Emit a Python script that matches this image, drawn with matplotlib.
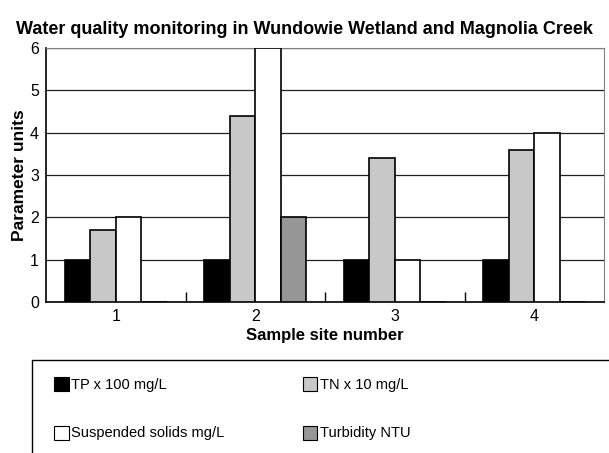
import matplotlib
matplotlib.use("Agg")
import matplotlib.pyplot as plt
import matplotlib.patches as mpatches
import numpy as np

plt.rcParams['font.family'] = ['Liberation Sans', 'DejaVu Sans']

# datos
sites = ["1", "2", "3", "4"]
tp = [1, 1, 1, 1]
tn = [1.7, 4.4, 3.4, 3.6]
ss = [2, 6, 1, 4]
turb = [0, 2, 0, 0]
labels = ["TP x 100 mg/L", "TN x 10 mg/L", "Suspended solids mg/L", "Turbidity NTU"]
colors = ["#000000", "#c8c8c8", "#ffffff", "#969696"]

fig = plt.figure(figsize=(6.09, 4.53), dpi=100)
ax = fig.add_axes([46/609, 1 - 302/453, 558/609, 254/453])

x = np.arange(1, len(sites) + 1)
w = 0.183
series = [tp, tn, ss, turb]
for i, vals in enumerate(series):
    ax.bar(x + (i - 1.5) * w, vals, width=w, color=colors[i],
           edgecolor="black", linewidth=1.2, zorder=3)

ax.set_xlim(0.5, 4.5)
ax.set_ylim(0, 6)
ax.set_yticks(range(0, 7))
ax.yaxis.grid(True, color="#202020", linewidth=0.9, zorder=0)
ax.set_axisbelow(True)

ax.set_xticks(x)
ax.set_xticklabels(sites)
ax.set_xticks([1.5, 2.5, 3.5], minor=True)
ax.tick_params(axis="x", which="major", length=0, labelsize=11.5, pad=5)
ax.tick_params(axis="x", which="minor", direction="in", length=7, width=1)
ax.tick_params(axis="y", length=0, labelsize=11.5, pad=5)

for side in ["top", "right"]:
    ax.spines[side].set_color("#808080")
for side in ["left", "bottom"]:
    ax.spines[side].set_color("black")
    ax.spines[side].set_linewidth(1.2)

ax.set_xlabel("Sample site number", fontsize=12, fontweight="bold", labelpad=3)
ax.set_ylabel("Parameter units", fontsize=12.5, fontweight="bold", labelpad=2)
fig.text(0.5, 1 - 30/453, "Water quality monitoring in Wundowie Wetland and Magnolia Creek",
         ha="center", va="center", fontsize=13, fontweight="bold")

# caja de la leyenda (se sale de la figura por abajo y a la derecha)
box = mpatches.Rectangle((32/609, -0.1), 1.0, (1 - 360/453) + 0.1,
                         transform=fig.transFigure, facecolor="none",
                         edgecolor="black", linewidth=1, clip_on=False)
fig.patches.append(box)

handles = [mpatches.Patch(facecolor=c, edgecolor="black", linewidth=0.8) for c in colors]
order = [0, 2, 1, 3]  # filas: TP, TN / SS, Turbidity
leg = fig.legend([handles[i] for i in order], [labels[i] for i in order],
                 ncol=2, loc="upper left", bbox_to_anchor=(54/609, 1 - 377/453),
                 frameon=False, fontsize=10.5, handlelength=1.0, handleheight=1.1,
                 handletextpad=0.15, columnspacing=5.4, labelspacing=2.3,
                 borderaxespad=0, borderpad=0)

fig.savefig("out.png", dpi=100)
